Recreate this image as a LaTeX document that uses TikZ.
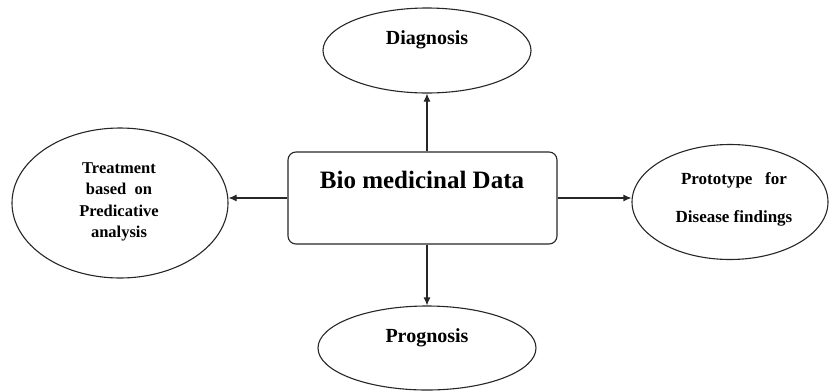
\documentclass[tikz,border=0pt]{standalone}
\usepackage{fontspec}
\setmainfont{Liberation Serif}
\usetikzlibrary{shapes.geometric,arrows.meta}
\tikzset{
  oval/.style={draw=black!85,line width=1.1pt,ellipse,inner sep=0pt},
  mainbox/.style={draw=black!85,line width=1.1pt,rounded corners=8pt,inner sep=0pt},
  lbl/.style={font=\bfseries,inner sep=0pt,align=center},
  conn/.style={draw=black!85,line width=1.1pt,-{Latex[length=8pt,width=7pt]}}
}
\begin{document}
\begin{tikzpicture}[x=1pt,y=-1pt]
\useasboundingbox (0,0) rectangle (829,391);
\node[mainbox,minimum width=269pt,minimum height=92pt] (box) at (422.5,198) {};
\node[lbl,font=\bfseries\fontsize{25}{28}\selectfont] (boxt) at (422,180) {Bio medicinal Data};

\node[oval,minimum width=208pt,minimum height=85pt] (diag) at (427,50.5) {};
\node[lbl,font=\bfseries\fontsize{20}{24}\selectfont] (diagt) at (427,40) {Diagnosis};

\node[oval,minimum width=218pt,minimum height=84pt] (prog) at (427,348) {};
\node[lbl,font=\bfseries\fontsize{20}{24}\selectfont] (progt) at (427,338) {Prognosis};

\node[oval,minimum width=216pt,minimum height=150pt] (left) at (120,203) {};
\node[lbl,font=\bfseries\fontsize{16.5}{21.5}\selectfont] (leftt) at (119,202) {Treatment\\based\ \ on\\Predicative\\analysis};

\node[oval,minimum width=196pt,minimum height=115pt] (right) at (730,202) {};
\node[lbl,font=\bfseries\fontsize{17}{38}\selectfont] (rightt) at (734,199) {Prototype\ \ \ for\\Disease findings};

\draw[conn] (box.north -| diag.south) -- (diag.south);
\draw[conn] (box.south -| prog.north) -- (prog.north);
\draw[conn] (box.west) -- (left.east |- box.west);
\draw[conn] (box.east) -- (right.west |- box.east);
\end{tikzpicture}
\end{document}
